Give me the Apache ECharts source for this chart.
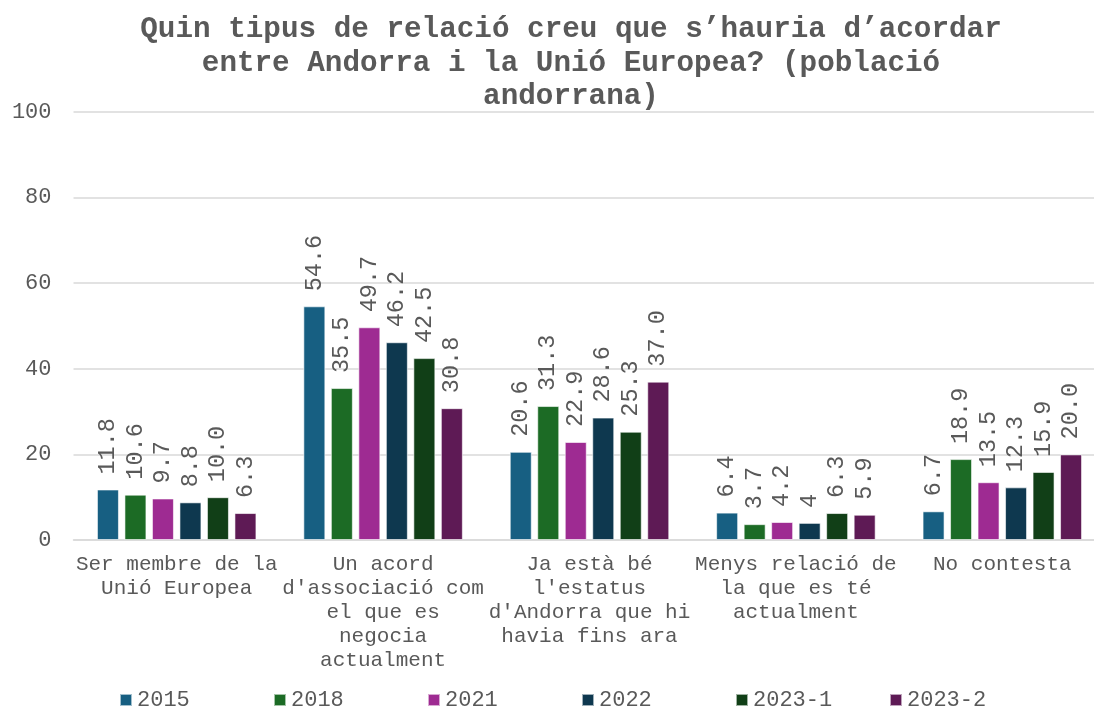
<!DOCTYPE html>
<html>
<head>
<meta charset="utf-8">
<script src="https://cdn.jsdelivr.net/npm/echarts@6/dist/echarts.min.js"></script>
<style>
  html, body { margin: 0; padding: 0; background: #fff; }
  #chart { width: 1094px; height: 708px; }
</style>
</head>
<body>
<div id="chart"></div>
<script>
(function (echarts) {

    var categories = [
        "Ser membre de la\nUnió Europea",
        "Un acord\nd'associació com\nel que es\nnegocia\nactualment",
        "Ja està bé\nl'estatus\nd'Andorra que hi\nhavia fins ara",
        "Menys relació de\nla que es té\nactualment",
        "No contesta"
    ];
    var years = ["2015", "2018", "2021", "2022", "2023-1", "2023-2"];

    // values kept as text so labels print like the original ("10.0", "4")
    var data2015 = ["11.8", "54.6", "20.6", "6.4", "6.7"];
    var data2018 = ["10.6", "35.5", "31.3", "3.7", "18.9"];
    var data2021 = ["9.7", "49.7", "22.9", "4.2", "13.5"];
    var data2022 = ["8.8", "46.2", "28.6", "4", "12.3"];
    var data2023a = ["10.0", "42.5", "25.3", "6.3", "15.9"];
    var data2023b = ["6.3", "30.8", "37.0", "5.9", "20.0"];

    var colors = ["#175f82", "#1c6b25", "#9e2b92", "#0e384f", "#113f17", "#5e1a55"];
    var allData = [data2015, data2018, data2021, data2022, data2023a, data2023b];

    var font = "'Liberation Mono', 'Courier New', monospace";
    var grey = "#595959";

    var series = years.map(function (y, i) {
        return {
            name: y,
            type: "bar",
            data: allData[i],
            barWidth: 22,
            barGap: "25%",
            itemStyle: {
                color: colors[i],
                borderColor: "rgba(255,255,255,0.6)",
                borderWidth: 1
            },
            label: {
                show: true,
                position: "top",
                rotate: 90,
                align: "left",
                verticalAlign: "middle",
                distance: 15,
                color: grey,
                fontFamily: font,
                fontSize: 23.5,
                formatter: function (p) { return p.data; }
            }
        };
    });

    // one legend per year so the entries sit at an even pitch, like Excel
    var legends = years.map(function (y, i) {
        return {
            data: [y],
            left: 114 + 154 * i,
            top: 684,
            itemWidth: 12,
            itemHeight: 12,
            icon: "rect",
            selectedMode: false,
            textStyle: { fontFamily: font, fontSize: 22, color: grey }
        };
    });

    var chart = echarts.init(document.getElementById("chart"));
    chart.setOption({
        animation: false,
        color: colors,
        title: {
            text: "Quin tipus de relació creu que s’hauria d’acordar\nentre Andorra i la Unió Europea? (població\nandorrana)",
            left: 566,
            textAlign: "center",
            top: 8,
            textStyle: {
                fontFamily: font,
                fontWeight: "bold",
                fontSize: 29.3,
                lineHeight: 33.5,
                color: grey
            }
        },
        legend: legends,
        grid: {
            left: 73.5,
            top: 112,
            width: 1032,
            bottom: 168,
            outerBoundsMode: "none"
        },
        xAxis: {
            type: "category",
            data: categories,
            axisTick: { show: false },
            axisLine: { lineStyle: { color: "#d9d9d9", width: 1.5 } },
            axisLabel: {
                interval: 0,
                margin: 12,
                color: grey,
                fontFamily: font,
                fontSize: 21,
                lineHeight: 24
            }
        },
        yAxis: {
            type: "value",
            min: 0,
            max: 100,
            interval: 20,
            axisLine: { show: false },
            axisTick: { show: false },
            splitLine: { lineStyle: { color: "#d9d9d9", width: 1.5 } },
            axisLabel: {
                margin: 22,
                color: grey,
                fontFamily: font,
                fontSize: 22
            }
        },
        series: series
    });

})(echarts);
</script>
</body>
</html>
